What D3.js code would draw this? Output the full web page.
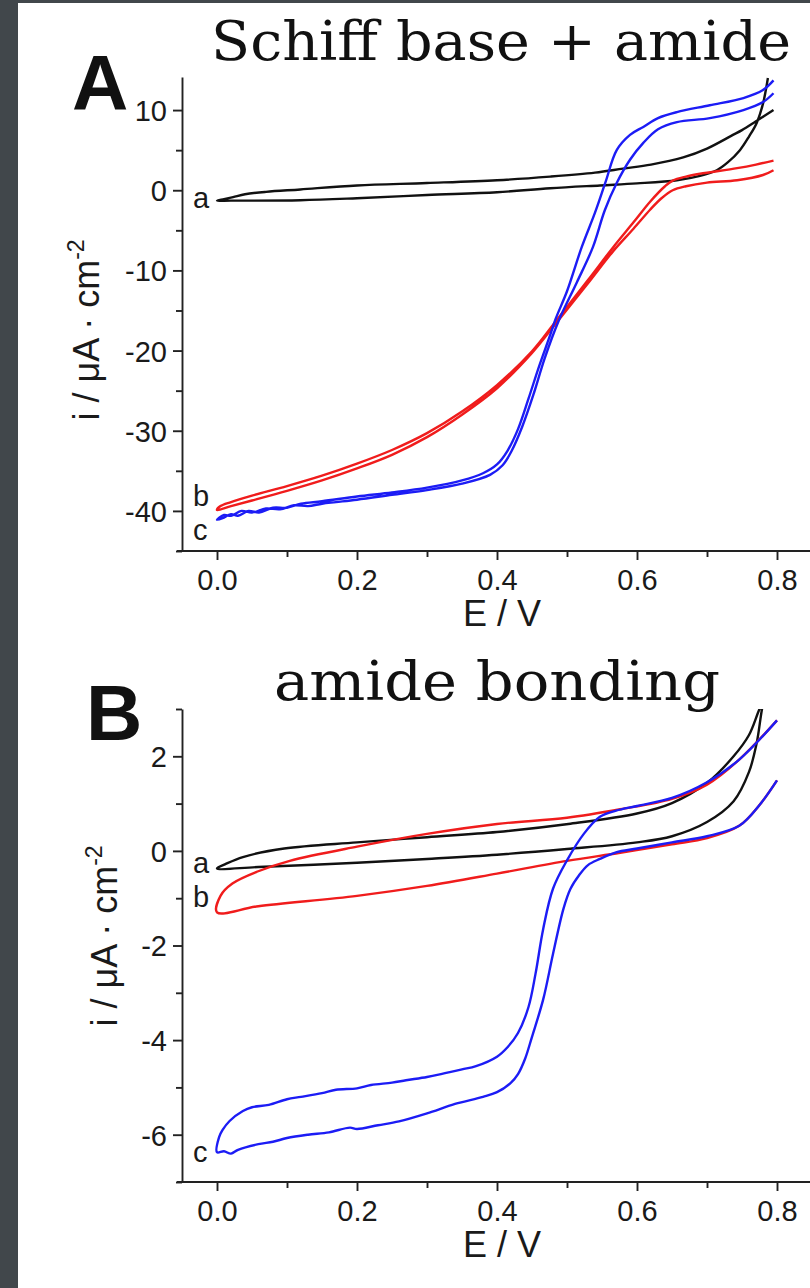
<!DOCTYPE html>
<html>
<head>
<meta charset="utf-8" />
<title>CV curves</title>
<script src="https://d3js.org/d3.v7.min.js"></script>
<style>
    body {
        margin: 0;
        background: #ffffff;
    }
    .axis path,
    .axis line {
        fill: none;
        stroke: #222;
        stroke-width: 1.9px;
    }
    .axis text {
        font-family: "Liberation Sans", Arial, sans-serif;
        font-size: 29px;
        fill: #1a1a1a;
    }
    .curve {
        fill: none;
        stroke-width: 2.4px;
        stroke-linejoin: round;
    }
</style>
</head>
<body>
<svg id="chart" width="810" height="1288"></svg>
<script>
// ---- data (E in V, i in uA/cm2) ----
var xTicks = [0, 0.2, 0.4, 0.6, 0.8];
var xMinor = [0.1, 0.3, 0.5, 0.7];

var yTicksA = [-40, -30, -20, -10, 0, 10];
var yMinorA = [-45, -35, -25, -15, -5, 5];
var yTicksB = [-6, -4, -2, 0, 2];
var yMinorB = [-7, -5, -3, -1, 1, 3];

var curveLabels = ["a", "b", "c"];

// panel A, curve a (black)
var blackA = [
    [0.795, 10], [0.77, 8.6], [0.75, 7.5], [0.737, 6.9], [0.70, 5.2], [0.666, 4.1],
    [0.62, 3.2], [0.58, 2.7], [0.54, 2.2], [0.476, 1.7], [0.4, 1.25], [0.3, 0.9],
    [0.2, 0.6], [0.119, 0.1], [0.07, -0.2], [0.04, -0.5], [0.023, -0.85], [0.01, -1.1],
    [0.0, -1.3],
    [0.02, -1.3], [0.119, -1.25], [0.2, -1.0], [0.3, -0.6], [0.4, -0.25], [0.476, 0.25],
    [0.547, 0.6], [0.6, 0.85], [0.657, 1.25], [0.69, 1.8], [0.714, 2.5], [0.73, 3.5],
    [0.747, 5.0], [0.76, 6.7], [0.771, 8.4], [0.78, 10.8], [0.787, 14.0]
];
// panel A, curve b (red)
var redA = [
    [0.795, 2.5], [0.78, 1.9], [0.743, 1.25], [0.70, 0.95], [0.67, 0.5], [0.651, 0.0],
    [0.635, -1.0], [0.619, -2.4], [0.595, -4.8], [0.566, -7.6], [0.53, -11.6], [0.487, -16.3],
    [0.45, -20.3], [0.4, -24.7], [0.35, -28.0], [0.3, -30.8], [0.25, -33.0], [0.2, -34.7],
    [0.15, -36.2], [0.1, -37.5], [0.05, -38.7], [0.02, -39.4], [0.0, -39.9],
    [0.005, -39.4], [0.02, -38.9], [0.05, -38.1], [0.1, -36.9], [0.15, -35.6], [0.2, -34.1],
    [0.25, -32.4], [0.3, -30.3], [0.35, -27.6], [0.4, -24.3], [0.45, -20.1], [0.487, -16.0],
    [0.53, -11.2], [0.566, -7.1], [0.595, -4.0], [0.619, -1.4], [0.64, 0.5], [0.651, 1.2],
    [0.67, 1.7], [0.69, 2.05], [0.743, 2.75], [0.77, 3.2], [0.795, 3.7]
];
// panel A, curve c (blue)
var blueA = [
    [0.795, 12.1], [0.78, 11.0], [0.752, 10.0], [0.704, 9.0], [0.657, 8.5], [0.63, 7.6],
    [0.609, 5.9], [0.59, 3.8], [0.571, 0.9], [0.554, -2.5], [0.537, -7.1], [0.514, -11.5],
    [0.488, -16.3], [0.468, -21], [0.452, -25.5], [0.436, -29.5], [0.421, -32.5], [0.408, -34.3],
    [0.39, -35.5], [0.35, -36.6], [0.3, -37.4], [0.25, -38.0], [0.2, -38.6], [0.17, -38.9],
    [0.15, -39.1], [0.13, -39.4], [0.11, -39.3], [0.09, -39.8], [0.07, -39.7], [0.05, -40.2],
    [0.035, -40.0], [0.02, -40.6], [0.01, -40.5], [0.0, -41.1],
    [0.008, -40.9], [0.02, -40.4], [0.03, -40.6], [0.045, -40.0], [0.06, -40.2], [0.08, -39.6],
    [0.1, -39.6], [0.12, -39.1], [0.15, -38.8], [0.2, -38.2], [0.25, -37.7], [0.3, -37.1],
    [0.35, -36.2], [0.38, -35.3], [0.4, -34.2], [0.415, -32.5], [0.43, -29.8], [0.445, -26.0],
    [0.46, -22.0], [0.475, -18.3], [0.484, -16.0], [0.5, -12.6], [0.521, -7.1], [0.54, -2.8],
    [0.555, 1.0], [0.571, 5.0], [0.59, 6.9], [0.609, 7.9], [0.63, 9.0], [0.657, 9.75],
    [0.704, 10.6], [0.752, 11.5], [0.78, 12.5], [0.795, 13.7]
];

// panel B, curve a (black)
var blackB = [
    [0.785, 3.3], [0.775, 3.0], [0.76, 2.45], [0.738, 2.0], [0.701, 1.45], [0.65, 1.01],
    [0.6, 0.79], [0.502, 0.57], [0.4, 0.4], [0.3, 0.29], [0.2, 0.18], [0.096, 0.05],
    [0.037, -0.13], [0.012, -0.28], [0.0, -0.37],
    [0.059, -0.34], [0.2, -0.25], [0.3, -0.17], [0.4, -0.08], [0.5, 0.04], [0.6, 0.18],
    [0.65, 0.31], [0.7, 0.61], [0.738, 1.05], [0.76, 1.67], [0.771, 2.28], [0.78, 3.1],
    [0.785, 3.3]
];
// panel B, curve b (red)
var redB = [
    [0.8, 2.76], [0.746, 1.93], [0.7, 1.4], [0.65, 1.1], [0.576, 0.88], [0.5, 0.7],
    [0.4, 0.57], [0.3, 0.36], [0.2, 0.09], [0.104, -0.21], [0.059, -0.43], [0.022, -0.69],
    [0.005, -0.95], [0.0, -1.3],
    [0.059, -1.17], [0.2, -0.95], [0.3, -0.74], [0.4, -0.48], [0.5, -0.21], [0.576, -0.04],
    [0.65, 0.14], [0.7, 0.27], [0.746, 0.53], [0.775, 0.97], [0.8, 1.49]
];
// panel B, curve c (blue)
var blueB = [
    [0.8, 2.76], [0.746, 1.93], [0.7, 1.45], [0.65, 1.12], [0.6, 0.95], [0.57, 0.85],
    [0.547, 0.72], [0.524, 0.36], [0.5, -0.2], [0.48, -0.8], [0.466, -1.65], [0.455, -2.6],
    [0.445, -3.3], [0.43, -3.85], [0.415, -4.15], [0.4, -4.35], [0.37, -4.55], [0.35, -4.62],
    [0.32, -4.72], [0.3, -4.78], [0.27, -4.85], [0.25, -4.9], [0.22, -4.95], [0.2, -5.02],
    [0.17, -5.05], [0.15, -5.12], [0.12, -5.2], [0.1, -5.25], [0.074, -5.37], [0.05, -5.42],
    [0.037, -5.5], [0.018, -5.71], [0.008, -5.9], [0.003, -6.05], [0.0, -6.37],
    [0.01, -6.35], [0.02, -6.4], [0.03, -6.32], [0.059, -6.2], [0.08, -6.15], [0.1, -6.07],
    [0.13, -6.0], [0.16, -5.95], [0.19, -5.85], [0.2, -5.88], [0.23, -5.8], [0.26, -5.72],
    [0.3, -5.55], [0.34, -5.35], [0.38, -5.2], [0.4, -5.1], [0.42, -4.9], [0.43, -4.72],
    [0.44, -4.4], [0.45, -3.93], [0.466, -3.14], [0.48, -2.18], [0.495, -1.22], [0.505, -0.8],
    [0.517, -0.52], [0.53, -0.3], [0.547, -0.17], [0.57, -0.03], [0.6, 0.05], [0.65, 0.18],
    [0.7, 0.31], [0.746, 0.53], [0.775, 0.97], [0.8, 1.49]
];

var colors = ["#111111", "#f01c1c", "#1c1cf5"];

var svg = d3.select("#chart");

// dark page edge
svg.append("rect").attr("x", 0).attr("y", 0).attr("width", 18).attr("height", 1288).attr("fill", "#41474b");
svg.append("rect").attr("x", 0).attr("y", 0).attr("width", 810).attr("height", 3).attr("fill", "#41474b");

function drawPanel(p) {
    var x = d3.scaleLinear().domain([-0.05, 0.85]).range([182, 812]);
    var y = d3.scaleLinear().domain(p.yDomain).range([p.bottom, p.top]);

    var g = svg.append("g");

    // clip to plot area
    var clipId = "clip" + p.letter;
    g.append("clipPath").attr("id", clipId)
        .append("rect")
        .attr("x", 182).attr("y", p.top)
        .attr("width", 630).attr("height", p.bottom - p.top);

    // minor ticks
    g.append("g").attr("class", "axis")
        .attr("transform", "translate(0," + p.bottom + ")")
        .call(d3.axisBottom(x).tickValues(xMinor).tickSize(6).tickFormat(""))
        .select(".domain").remove();
    g.append("g").attr("class", "axis")
        .attr("transform", "translate(182,0)")
        .call(d3.axisLeft(y).tickValues(p.yMinor).tickSize(6).tickFormat(""))
        .select(".domain").remove();

    // major axes
    var xa = g.append("g").attr("class", "axis")
        .attr("transform", "translate(0," + p.bottom + ")")
        .call(d3.axisBottom(x).tickValues(xTicks).tickSize(9).tickSizeOuter(0).tickPadding(9)
            .tickFormat(d3.format(".1f")));
    xa.select(".domain").attr("d", "M177,0H812");

    var ya = g.append("g").attr("class", "axis")
        .attr("transform", "translate(182,0)")
        .call(d3.axisLeft(y).tickValues(p.yTicks).tickSize(9).tickSizeOuter(0).tickPadding(6)
            .tickFormat(function(d) { return String(d); }));
    ya.selectAll(".tick text").attr("dy", "0.36em");

    // curves
    var line = d3.line()
        .x(function(d) { return x(d[0]); })
        .y(function(d) { return y(d[1]); })
        .curve(d3.curveCatmullRom.alpha(0.5));

    g.append("g").attr("clip-path", "url(#" + clipId + ")")
        .selectAll("path")
        .data(p.curves)
        .enter().append("path")
        .attr("class", "curve")
        .attr("stroke", function(d, i) { return colors[i]; })
        .attr("d", line);

    // curve labels
    g.selectAll(".lab")
        .data(curveLabels)
        .enter().append("text")
        .attr("x", 193)
        .attr("y", function(d, i) { return p.labelY[i]; })
        .attr("font-family", "Liberation Sans, Arial, sans-serif")
        .attr("font-size", "29px")
        .attr("fill", "#1a1a1a")
        .text(function(d) { return d; });

    // axis titles
    g.append("text")
        .attr("x", 502).attr("y", p.bottom + 75)
        .attr("text-anchor", "middle")
        .attr("font-family", "Liberation Sans, Arial, sans-serif")
        .attr("font-size", "36px")
        .attr("fill", "#1a1a1a")
        .text("E / V");

    var yt = g.append("text")
        .attr("transform", "translate(" + p.yTitleX + "," + p.yTitleY + ") rotate(-90)")
        .attr("text-anchor", "middle")
        .attr("font-family", "Liberation Sans, Arial, sans-serif")
        .attr("font-size", "36px")
        .attr("fill", "#1a1a1a");
    yt.append("tspan").text("i / \u03bcA \u00b7 cm");
    yt.append("tspan").attr("dy", -15).attr("font-size", "23px").text("-2");

    // panel letter
    g.append("text")
        .attr("x", p.letterX).attr("y", p.letterY)
        .attr("font-family", "Liberation Sans, Arial, sans-serif")
        .attr("font-weight", "bold")
        .attr("font-size", "78px")
        .attr("fill", "#111")
        .text(p.letter);

    // title
    g.append("text")
        .attr("x", p.titleX).attr("y", p.titleY)
        .attr("font-family", "DejaVu Serif, serif")
        .attr("font-size", "54px")
        .attr("textLength", p.titleW)
        .attr("lengthAdjust", "spacingAndGlyphs")
        .attr("fill", "#111")
        .text(p.title);
}

drawPanel({
    letter: "A", letterX: 72, letterY: 110,
    title: "Schiff base + amide", titleX: 211, titleY: 60, titleW: 580,
    top: 77, bottom: 551, yDomain: [-45, 14.125],
    yTicks: yTicksA, yMinor: yMinorA,
    yTitleX: 99, yTitleY: 330,
    labelY: [208, 506, 540],
    curves: [blackA, redA, blueA]
});

drawPanel({
    letter: "B", letterX: 86, letterY: 740,
    title: "amide bonding", titleX: 274, titleY: 700, titleW: 446,
    top: 709, bottom: 1182, yDomain: [-7, 3],
    yTicks: yTicksB, yMinor: yMinorB,
    yTitleX: 117, yTitleY: 936,
    labelY: [873, 907, 1162],
    curves: [blackB, redB, blueB]
});
</script>
</body>
</html>
